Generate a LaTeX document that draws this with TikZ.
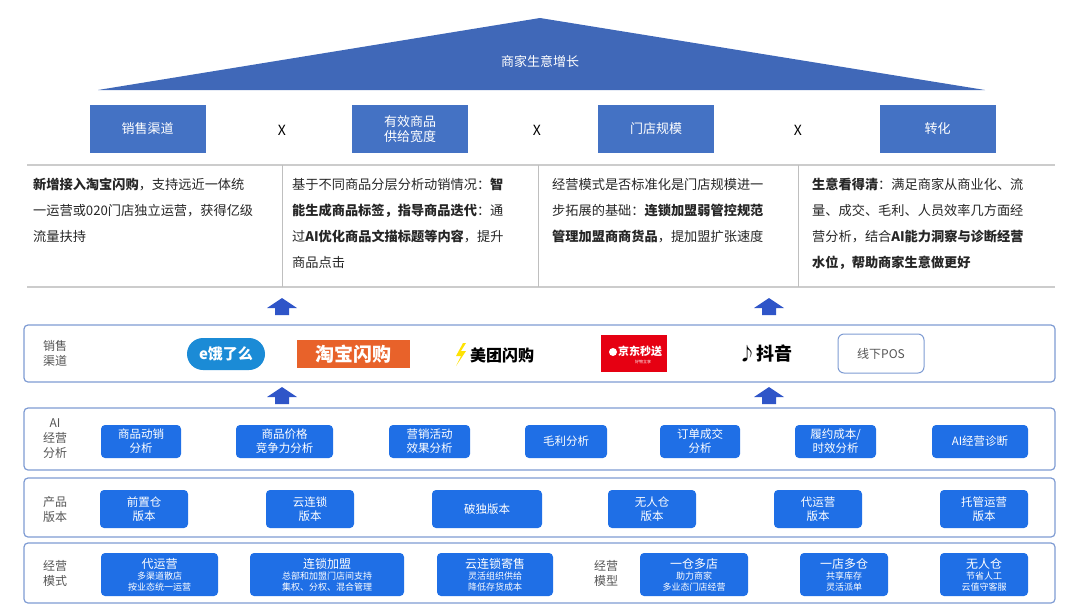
\documentclass[tikz,border=0pt]{standalone}
\usepackage{fontspec}
\setmainfont{Noto Sans CJK SC}
\usetikzlibrary{arrows.meta}
\definecolor{tri}{HTML}{4068B8}
\definecolor{topbox}{HTML}{4472C4}
\definecolor{bb}{HTML}{1F6FE6}
\definecolor{pborder}{HTML}{7E9BD3}
\definecolor{arr}{HTML}{2F55C8}
\definecolor{gtxt}{HTML}{555555}
\definecolor{eleme}{RGB}{27,139,214}
\definecolor{taobao}{RGB}{232,98,42}
\definecolor{jd}{RGB}{230,0,18}
\tikzset{
 topb/.style={fill=topbox,text=white,minimum height=48pt,minimum width=116pt,font=\fontsize{13}{15}\selectfont,align=center},
 panel/.style={draw=pborder,line width=1.2pt,rounded corners=4pt},
 bbox/.style={fill=bb,text=white,rounded corners=4pt,align=center,font=\fontsize{11.5}{14}\selectfont},
 lab/.style={text=gtxt,align=center,font=\fontsize{12}{15}\selectfont},
 cell/.style={anchor=north west,text width=245pt,align=left,font=\fontsize{13.2}{26}\selectfont,text=black!85,inner sep=0pt},
 xmark/.style={font=\fontsize{14}{16}\selectfont}
}
\newcommand{\upar}[3]{\fill[arr] (#2-7,#3+9) -- (#2-7,#3+2) -- (#2-15,#3+2) -- (#2,#3-8) -- (#2+15,#3+2) -- (#2+7,#3+2) -- (#2+7,#3+9) -- cycle; \coordinate (#1) at (#2,#3);}
\newcommand{\bx}[6]{\node[bbox,minimum width={#3-#2},minimum height=#5,inner sep=1pt] (#1) at ({(#2+#3)/2},#4) {#6};}
\newcommand{\mx}[6]{\node[bbox,minimum width={#3-#2},minimum height=43pt,inner sep=0pt,font=\fontsize{9}{11}\selectfont] (#1) at ({(#2+#3)/2},574.5) {\fontsize{12}{13}\selectfont #4\\\fontsize{9}{11}\selectfont #5\\#6};}
\begin{document}
\begin{tikzpicture}[x=1pt,y=-1pt]
\useasboundingbox (0,0) rectangle (1080,611);
% triangle
\fill[tri] (540,18) -- (985,90) -- (98,90) -- cycle;
\node[text=white,font=\fontsize{13}{15}\selectfont] (goal) at (540,61) {商家生意增长};
% top boxes
\node[topb] (t1) at (147.5,129) {销售渠道};
\node[topb] (t2) at (410,129) {有效商品\\供给宽度};
\node[topb] (t3) at (656,129) {门店规模};
\node[topb] (t4) at (937.5,129) {转化};
\node[xmark] (x1) at (282,130) {X};
\node[xmark] (x2) at (537,130) {X};
\node[xmark] (x3) at (798,130) {X};
% table
\draw[black!20,line width=1.5pt] (27,165) -- (1055,165);
\draw[black!20,line width=1.5pt] (27,287) -- (1055,287);
\draw[black!25,line width=0.8pt] (282,165) -- (282,287);
\draw[black!25,line width=0.8pt] (538,165) -- (538,287);
\draw[black!25,line width=0.8pt] (798,165) -- (798,287);
\node[cell] (c1) at (33,178) {\textbf{新增接入淘宝闪购}，支持远近一体统\\一运营或020门店独立运营，获得亿级\\流量扶持};
\node[cell] (c2) at (292,178) {基于不同商品分层分析动销情况：\textbf{智}\\\textbf{能生成商品标签，指导商品迭代}：通\\过\textbf{AI优化商品文描标题等内容}，提升\\商品点击};
\node[cell] (c3) at (552,178) {经营模式是否标准化是门店规模进一\\步拓展的基础：\textbf{连锁加盟弱管控规范}\\\textbf{管理加盟商商货品}，提加盟扩张速度};
\node[cell] (c4) at (812,178) {\textbf{生意看得清}：满足商家从商业化、流\\量、成交、毛利、人员效率几方面经\\营分析，结合\textbf{AI能力洞察与诊断经营}\\\textbf{水位，帮助商家生意做更好}};
% arrows
\upar{a1}{282}{306}
\upar{a2}{769}{306}
\upar{a3}{282}{395}
\upar{a4}{769}{395}
% panel 1
\draw[panel] (24,325) rectangle (1055,382);
\node[lab] (l1) at (55,353) {销售\\渠道};
\node[fill=eleme,minimum width=78pt,minimum height=32pt,rounded corners=16pt,text=white,font=\bfseries\fontsize{15}{17}\selectfont] (g1) at (226,354) {e饿了么};
\node[fill=taobao,minimum width=113pt,minimum height=28pt,text=white,font=\bfseries\fontsize{19}{21}\selectfont,inner sep=0pt] (g2) at (353,354) {淘宝闪购};
\fill[yellow!85!orange] (463,343) -- (456,356) -- (461,356) -- (456,366) -- (466,351) -- (461,351) -- (466,343) -- cycle;
\node[font=\bfseries\fontsize{16}{18}\selectfont,anchor=west,inner sep=0pt] (g3) at (470,355) {美团闪购};
\node[fill=jd,minimum width=66pt,minimum height=37pt,inner sep=0pt] (g4) at (634,353) {};
\node[text=white,font=\bfseries\fontsize{11}{12}\selectfont] (g4t) at (640,351) {京东秒送};
\node[text=white,font=\fontsize{4}{5}\selectfont] (g4s) at (643,362) {好物立享};
\fill[white] (613,352) circle (4);
\node[font=\bfseries\fontsize{18}{20}\selectfont] (g5) at (765,354) {♪抖音};
\node[draw=pborder,line width=1pt,rounded corners=6pt,minimum width=86pt,minimum height=39pt,text=gtxt,font=\fontsize{12}{14}\selectfont] (g6) at (881,353.5) {线下POS};
% panel 2
\draw[panel] (24,408) rectangle (1055,470);
\node[lab] (l2) at (55,439) {AI\\经营\\分析};
\bx{b1}{101}{181}{441.5}{33pt}{商品动销\\分析}
\bx{b2}{236}{333}{441.5}{33pt}{商品价格\\竞争力分析}
\bx{b3}{389}{470}{441.5}{33pt}{营销活动\\效果分析}
\bx{b4}{525}{607}{441.5}{33pt}{毛利分析}
\bx{b5}{660}{740}{441.5}{33pt}{订单成交\\分析}
\bx{b6}{795}{876}{441.5}{33pt}{履约成本/\\时效分析}
\bx{b7}{932}{1028}{441.5}{33pt}{AI经营诊断}
% panel 3
\draw[panel] (24,478) rectangle (1055,537);
\node[lab] (l3) at (55,509) {产品\\版本};
\bx{p1}{100}{188}{509}{38pt}{前置仓\\版本}
\bx{p2}{266}{354}{509}{38pt}{云连锁\\版本}
\bx{p3}{432}{542}{509}{38pt}{破独版本}
\bx{p4}{608}{696}{509}{38pt}{无人仓\\版本}
\bx{p5}{774}{862}{509}{38pt}{代运营\\版本}
\bx{p6}{940}{1028}{509}{38pt}{托管运营\\版本}
% panel 4
\draw[panel] (24,543) rectangle (1055,603);
\node[lab] (l4) at (55,573) {经营\\模式};
\node[lab] (l5) at (606,573) {经营\\模型};
\mx{m1}{101}{218}{代运营}{多渠道散店}{按业态统一运营}
\mx{m2}{250}{404}{连锁加盟}{总部和加盟门店间支持}{集权、分权、混合管理}
\mx{m3}{437}{553}{云连锁寄售}{灵活组织供给}{降低存货成本}
\mx{m4}{640}{748}{一仓多店}{助力商家}{多业态门店经营}
\mx{m5}{800}{888}{一店多仓}{共享库存}{灵活派单}
\mx{m6}{940}{1028}{无人仓}{节省人工}{云值守客服}
\end{tikzpicture}
\end{document}
